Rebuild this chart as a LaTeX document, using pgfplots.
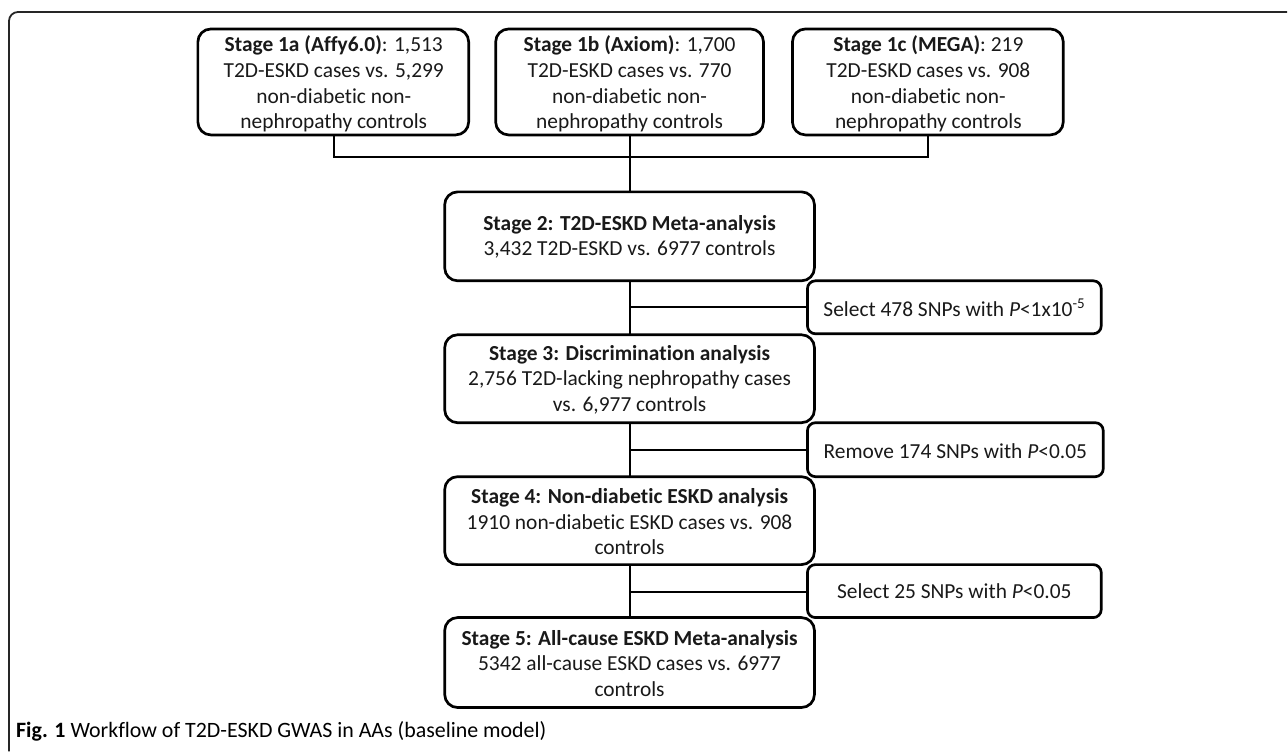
\documentclass[border=0pt]{standalone}
\usepackage{pgfplots}
\pgfplotsset{compat=1.18}
\usepackage{fontspec}
\setmainfont[Ligatures=NoCommon]{Carlito}
\begin{document}
\begin{tikzpicture}
\begin{axis}[
  width=1288bp, height=752bp, scale only axis,
  xmin=0, xmax=1288, ymin=0, ymax=752, y dir=reverse,
  axis lines=none, ticks=none, clip=false,
]
% fix the page to the full canvas
\path (axis cs:0,0) rectangle (axis cs:1288,752);
% outer frame (only top and left visible)
\draw[line width=1.8pt, black!85, rounded corners=9pt]
  (axis cs:1288,12) -- (axis cs:9,12) -- (axis cs:9,752);

\tikzset{
  stagebox/.style={line width=2.7pt, rounded corners=13pt},
  filterbox/.style={line width=2.7pt, rounded corners=8pt},
  conn/.style={line width=2pt},
  txt/.style={align=center, inner sep=0pt, font=\fontsize{21.5}{25.8}\selectfont, text=black!90},
}

% stage 1 boxes
\draw[stagebox] (axis cs:198,29) rectangle (axis cs:469,135);
\draw[stagebox] (axis cs:496,29) rectangle (axis cs:764,135);
\draw[stagebox] (axis cs:793,29) rectangle (axis cs:1064,135);
\node[txt] at (axis cs:334,84) {\textbf{Stage 1a (Affy6.0)}: 1,513\\T2D-ESKD cases vs. 5,299\\non-diabetic non-\\nephropathy controls};
\node[txt] at (axis cs:630,84) {\textbf{Stage 1b (Axiom)}: 1,700\\T2D-ESKD cases vs. 770\\non-diabetic non-\\nephropathy controls};
\node[txt] at (axis cs:929,84) {\textbf{Stage 1c (MEGA)}: 219\\T2D-ESKD cases vs. 908\\non-diabetic non-\\nephropathy controls};

% connectors from stage 1
\draw[conn] (axis cs:334,135) -- (axis cs:334,157) -- (axis cs:929,157) -- (axis cs:929,135);
\draw[conn] (axis cs:630,135) -- (axis cs:630,192);

% stage 2..5 boxes
\draw[stagebox] (axis cs:445,192) rectangle (axis cs:815,281);
\draw[stagebox] (axis cs:445,335) rectangle (axis cs:815,423);
\draw[stagebox] (axis cs:445,477) rectangle (axis cs:815,565);
\draw[stagebox] (axis cs:445,618) rectangle (axis cs:815,708);
\node[txt] at (axis cs:630,237) {\textbf{Stage 2: T2D-ESKD Meta-analysis}\\3,432 T2D-ESKD vs. 6977 controls};
\node[txt] at (axis cs:630,380) {\textbf{Stage 3: Discrimination analysis}\\2,756 T2D-lacking nephropathy cases\\vs. 6,977 controls};
\node[txt] at (axis cs:630,522) {\textbf{Stage 4: Non-diabetic ESKD analysis}\\1910 non-diabetic ESKD cases vs. 908\\controls};
\node[txt] at (axis cs:630,664) {\textbf{Stage 5: All-cause ESKD Meta-analysis}\\5342 all-cause ESKD cases vs. 6977\\controls};

% vertical connectors and side branches
\draw[conn] (axis cs:630,281) -- (axis cs:630,335);
\draw[conn] (axis cs:630,307) -- (axis cs:808,307);
\draw[conn] (axis cs:630,423) -- (axis cs:630,477);
\draw[conn] (axis cs:630,450) -- (axis cs:808,450);
\draw[conn] (axis cs:630,565) -- (axis cs:630,618);
\draw[conn] (axis cs:630,592) -- (axis cs:808,592);

% filter boxes
\draw[filterbox] (axis cs:808,281) rectangle (axis cs:1102,334);
\draw[filterbox] (axis cs:808,423) rectangle (axis cs:1104,477);
\draw[filterbox] (axis cs:808,565) rectangle (axis cs:1102,618);
\node[txt] at (axis cs:955,308) {Select 478 SNPs with \textit{P}<1x10\textsuperscript{-5}};
\node[txt] at (axis cs:956,451) {Remove 174 SNPs with \textit{P}<0.05};
\node[txt] at (axis cs:955,592) {Select 25 SNPs with \textit{P}<0.05};

% caption
\node[anchor=west, inner sep=0pt, font=\fontsize{22}{25}\selectfont] at (axis cs:16,732)
  {\textbf{Fig. 1} Workflow of T2D-ESKD GWAS in AAs (baseline model)};
\end{axis}
\end{tikzpicture}
\end{document}
